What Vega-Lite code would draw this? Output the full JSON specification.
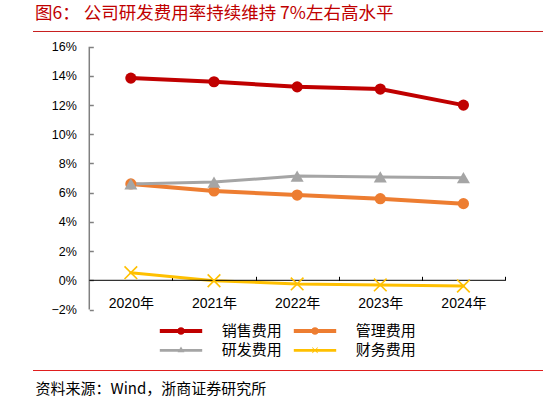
{
  "$schema": "https://vega.github.io/schema/vega-lite/v6.json",
  "width": 510,
  "height": 340,
  "autosize": {"type": "none"},
  "padding": {"left": 33, "top": 31, "right": 5, "bottom": 31},
  "background": "white",
  "config": {
    "view": {"stroke": null},
    "font": "Liberation Sans",
    "axis": {"labelOverlap": false, "labelSeparation": 0},
    "axisX": {
      "offset": -90.7,
      "domain": false,
      "grid": false,
      "tickBand": "extent",
      "tickSize": -4,
      "tickColor": "#000000",
      "tickWidth": 1,
      "labelAngle": 0,
      "labelFont": "Liberation Sans, Noto Sans CJK SC",
      "labelFontSize": 14,
      "labelColor": "#000000",
      "labelPadding": 20,
      "titleFont": "Noto Sans CJK SC",
      "titleFontSize": 15,
      "titleFontWeight": "normal",
      "titleColor": "#000000",
      "titleX": 2,
      "titleY": 108,
      "titleAnchor": "start",
      "titleAlign": "left",
      "titleBaseline": "middle"
    },
    "axisY": {
      "offset": -56.3,
      "domain": false,
      "grid": false,
      "tickSize": -4,
      "tickColor": "#808080",
      "tickWidth": 1.5,
      "labelOverlap": false,
      "labelFont": "Liberation Sans",
      "labelFontSize": 12.5,
      "labelColor": "#000000",
      "labelPadding": 17
    }
  },
  "title": {
    "text": "图6：  公司研发费用率持续维持 7%左右高水平",
    "anchor": "start",
    "frame": "group",
    "orient": "top",
    "offset": 9,
    "dx": 2,
    "dy": 19,
    "baseline": "bottom",
    "font": "Noto Sans CJK SC",
    "fontSize": 17.5,
    "fontWeight": "normal",
    "color": "#C00000"
  },
  "data": {
    "values": [
      {"year": "2020年", "series": "销售费用", "value": 13.85},
      {"year": "2021年", "series": "销售费用", "value": 13.6},
      {"year": "2022年", "series": "销售费用", "value": 13.25},
      {"year": "2023年", "series": "销售费用", "value": 13.1},
      {"year": "2024年", "series": "销售费用", "value": 12.0},
      {"year": "2020年", "series": "管理费用", "value": 6.6},
      {"year": "2021年", "series": "管理费用", "value": 6.12},
      {"year": "2022年", "series": "管理费用", "value": 5.84},
      {"year": "2023年", "series": "管理费用", "value": 5.59},
      {"year": "2024年", "series": "管理费用", "value": 5.25},
      {"year": "2020年", "series": "研发费用", "value": 6.6},
      {"year": "2021年", "series": "研发费用", "value": 6.73},
      {"year": "2022年", "series": "研发费用", "value": 7.14},
      {"year": "2023年", "series": "研发费用", "value": 7.08},
      {"year": "2024年", "series": "研发费用", "value": 7.03},
      {"year": "2020年", "series": "财务费用", "value": 0.52},
      {"year": "2021年", "series": "财务费用", "value": -0.03},
      {"year": "2022年", "series": "财务费用", "value": -0.25},
      {"year": "2023年", "series": "财务费用", "value": -0.32},
      {"year": "2024年", "series": "财务费用", "value": -0.39}
    ]
  },
  "layer": [
    {
      "transform": [{"filter": "datum.series === '销售费用' || datum.series === '管理费用'"}],
      "mark": {"type": "line", "strokeCap": "round", "strokeWidth": 4},
      "encoding": {
        "x": {
          "field": "year", "type": "nominal",
          "scale": {"type": "band", "domain": ["2020年", "2021年", "2022年", "2023年", "2024年"],
                    "paddingInner": 0, "paddingOuter": 0.567, "align": 0.597},
          "axis": {"title": "资料来源：Wind，浙商证券研究所"}
        },
        "y": {
          "field": "value", "type": "quantitative",
          "scale": {"domain": [-6.212, 17.075], "nice": false, "zero": false},
          "axis": {"title": null, "values": [-2, 0, 2, 4, 6, 8, 10, 12, 14, 16], "format": "d",
                   "labelExpr": "datum.label + '%'", "labelOverlap": false}
        },
        "color": {
          "field": "series", "type": "nominal",
          "scale": {"domain": ["销售费用", "管理费用", "研发费用", "财务费用"],
                    "range": ["#C00000", "#ED7D31", "#A5A5A5", "#FFC000"]},
          "legend": {
            "title": null,
            "orient": "none",
            "direction": "horizontal",
            "legendX": 125.5,
            "legendY": 292,
            "columns": 2,
            "columnPadding": 10,
            "rowPadding": 3.3,
            "clipHeight": 16,
            "padding": 0,
            "symbolSize": 64,
            "symbolStrokeWidth": 0,
            "symbolOffset": 15,
            "labelOffset": 33.2,
            "labelFont": "Noto Sans CJK SC",
            "labelFontSize": 15,
            "labelColor": "#000000",
            "encode": {
              "symbols": {
                "update": {
                  "shape": {"signal": "datum.value === '研发费用' ? 'M-5.3,-0.35H5.3V0.35H-5.3ZM0,-0.95L0.85,0.5L-0.85,0.5Z' : datum.value === '财务费用' ? 'M-5.3,-0.35H5.3V0.35H-5.3ZM-0.75,-0.62L-0.62,-0.75L0.75,0.62L0.62,0.75ZM0.62,-0.75L0.75,-0.62L-0.62,0.75L-0.75,0.62Z' : 'M-5.3,-0.5H5.3V0.5H-5.3ZM-0.95,0A0.95,0.95,0,1,1,0.95,0A0.95,0.95,0,1,1,-0.95,0Z'"},
                  "strokeWidth": {"value": 0},
                  "fill": {"scale": "color", "field": "value"},
                  "fillOpacity": {"value": 1},
                  "opacity": {"value": 1}
                }
              }
            }
          }
        }
      }
    },
    {
      "transform": [{"filter": "datum.series === '研发费用' || datum.series === '财务费用'"}],
      "mark": {"type": "line", "strokeCap": "round", "strokeWidth": 3},
      "encoding": {
        "x": {"field": "year", "type": "nominal", "axis": {"title": "资料来源：Wind，浙商证券研究所"}},
        "y": {"field": "value", "type": "quantitative",
              "axis": {"title": null, "values": [-2, 0, 2, 4, 6, 8, 10, 12, 14, 16], "format": "d",
                       "labelExpr": "datum.label + '%'", "labelOverlap": false}},
        "color": {"field": "series", "type": "nominal"}
      }
    },
    {
      "data": {"values": [{"edge": "top"}]},
      "mark": {"type": "rule", "color": "#C81E1E", "strokeWidth": 1},
      "encoding": {
        "y": {"datum": 17.041, "type": "quantitative",
              "axis": {"title": null, "values": [-2, 0, 2, 4, 6, 8, 10, 12, 14, 16], "format": "d",
                       "labelExpr": "datum.label + '%'", "labelOverlap": false}}
      }
    },
    {
      "data": {"values": [{"edge": "bottom"}]},
      "mark": {"type": "rule", "color": "#E01E1E", "strokeWidth": 1},
      "encoding": {
        "y": {"datum": -6.178, "type": "quantitative",
              "axis": {"title": null, "values": [-2, 0, 2, 4, 6, 8, 10, 12, 14, 16], "format": "d",
                       "labelExpr": "datum.label + '%'", "labelOverlap": false}}
      }
    },
    {
      "data": {"values": [{"edge": "yaxis"}]},
      "mark": {"type": "rule", "color": "#808080", "strokeWidth": 1.5},
      "encoding": {
        "x": {"datum": "2020年", "type": "nominal", "bandPosition": 0,
              "axis": {"title": "资料来源：Wind，浙商证券研究所"}},
        "y": {"datum": -2, "type": "quantitative",
              "axis": {"title": null, "values": [-2, 0, 2, 4, 6, 8, 10, 12, 14, 16], "format": "d",
                       "labelExpr": "datum.label + '%'", "labelOverlap": false}},
        "y2": {"datum": 16}
      }
    },
    {
      "data": {"values": [{"edge": "xaxis"}]},
      "mark": {"type": "rule", "color": "#000000", "strokeWidth": 1},
      "encoding": {
        "x": {"datum": "2020年", "type": "nominal", "bandPosition": 0,
              "axis": {"title": "资料来源：Wind，浙商证券研究所"}},
        "x2": {"datum": "2024年", "bandPosition": 1},
        "y": {"datum": 0, "type": "quantitative",
              "axis": {"title": null, "values": [-2, 0, 2, 4, 6, 8, 10, 12, 14, 16], "format": "d",
                       "labelExpr": "datum.label + '%'", "labelOverlap": false}}
      }
    },
    {
      "transform": [{"filter": "datum.series === '销售费用' || datum.series === '管理费用'"}],
      "mark": {"type": "point", "filled": true, "opacity": 1, "shape": "circle", "size": 125},
      "encoding": {
        "x": {"field": "year", "type": "nominal", "axis": {"title": "资料来源：Wind，浙商证券研究所"}},
        "y": {"field": "value", "type": "quantitative",
              "axis": {"title": null, "values": [-2, 0, 2, 4, 6, 8, 10, 12, 14, 16], "format": "d",
                       "labelExpr": "datum.label + '%'", "labelOverlap": false}},
        "color": {"field": "series", "type": "nominal"}
      }
    },
    {
      "transform": [{"filter": "datum.series === '研发费用'"}],
      "mark": {"type": "point", "filled": true, "opacity": 1, "shape": "triangle-up", "size": 170},
      "encoding": {
        "x": {"field": "year", "type": "nominal", "axis": {"title": "资料来源：Wind，浙商证券研究所"}},
        "y": {"field": "value", "type": "quantitative",
              "axis": {"title": null, "values": [-2, 0, 2, 4, 6, 8, 10, 12, 14, 16], "format": "d",
                       "labelExpr": "datum.label + '%'", "labelOverlap": false}},
        "color": {"field": "series", "type": "nominal"}
      }
    },
    {
      "transform": [{"filter": "datum.series === '财务费用'"}],
      "mark": {"type": "point", "filled": false, "opacity": 1, "strokeWidth": 1.6, "size": 160,
               "shape": "M-1,-1L1,1M1,-1L-1,1"},
      "encoding": {
        "x": {"field": "year", "type": "nominal", "axis": {"title": "资料来源：Wind，浙商证券研究所"}},
        "y": {"field": "value", "type": "quantitative",
              "axis": {"title": null, "values": [-2, 0, 2, 4, 6, 8, 10, 12, 14, 16], "format": "d",
                       "labelExpr": "datum.label + '%'", "labelOverlap": false}},
        "color": {"field": "series", "type": "nominal"}
      }
    }
  ]
}
